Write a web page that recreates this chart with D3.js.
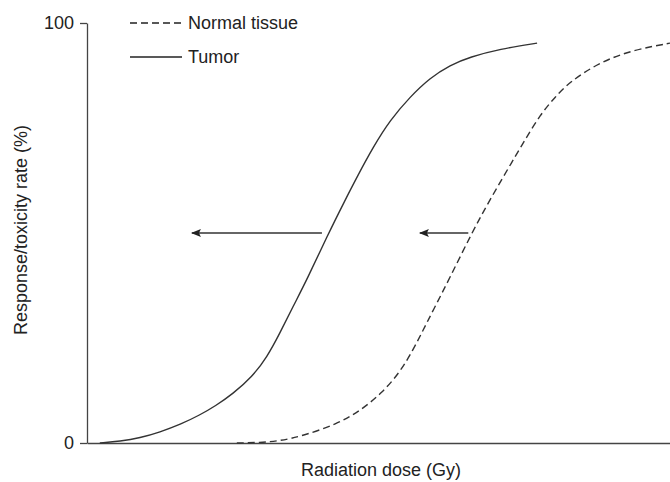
<!DOCTYPE html>
<html>
<head>
<meta charset="utf-8">
<script src="https://cdn.jsdelivr.net/npm/d3@7"></script>
<style>
  html, body { margin: 0; padding: 0; background: #fff; }
  svg { display: block; }
  text { font-family: "Liberation Sans", Arial, Helvetica, sans-serif; fill: #222; }
</style>
</head>
<body>
<svg id="chart" width="670" height="482"></svg>
<script>
// Dose axis is unitless (0-100 arbitrary), rate in %
const tumorDose = [2.2, 5.7, 9.1, 12.5, 16.0, 19.4, 22.0, 25.0, 28.3, 30.9, 33.1, 35.3, 37.7, 41.2, 44.3, 46.3, 49.1, 52.0, 55.4, 58.8, 62.3, 65.7, 70.8, 77.2];
const tumorRate = [0, 0.4, 1.2, 2.6, 4.4, 6.7, 8.8, 11.7, 15.7, 20.5, 26.2, 32.4, 38.8, 49.3, 57.9, 63.3, 70.5, 76.9, 82.4, 86.9, 90.0, 91.9, 93.8, 95.2];
const normalDose = [25.7, 29.7, 33.1, 37.0, 42.9, 46.8, 50.6, 53.7, 55.9, 57.6, 59.3, 62.3, 66.0, 69.1, 73.1, 75.1, 77.7, 80.3, 82.8, 88.0, 93.7, 100];
const normalRate = [0, 0.1, 0.5, 1.7, 4.5, 7.6, 11.9, 16.9, 22.1, 26.7, 31.4, 39.5, 50.0, 57.9, 67.4, 72.1, 78.1, 82.4, 86.0, 90.7, 93.6, 95.2];
const yTicks = [0, 100];
const legendLabels = ["Normal tissue", "Tumor"];
// arrows: from dose -> to dose at a given rate
const arrowFrom = [40.3, 65.4];
const arrowTo = [18.0, 57.1];
const arrowRate = [50, 50];

const svg = d3.select("#chart");
const x = d3.scaleLinear().domain([0, 100]).range([87, 670]);
const y = d3.scaleLinear().domain([0, 100]).range([443, 23]);

const axisColor = "#444";
const fs = "18px";

// Y axis
const yAxis = svg.append("g").attr("transform", `translate(${x(0)},0)`)
  .call(d3.axisLeft(y).tickValues(yTicks).tickSize(7).tickPadding(6).tickSizeOuter(0));
yAxis.select(".domain").attr("stroke", axisColor).attr("stroke-width", 1.3);
yAxis.selectAll(".tick line").attr("stroke", axisColor).attr("stroke-width", 1.3);
yAxis.selectAll(".tick text").style("font-size", fs).style("font-family", "Liberation Sans, Arial, sans-serif").attr("fill", "#222");

// X axis (no ticks)
const xAxis = svg.append("g").attr("transform", `translate(0,${y(0)})`)
  .call(d3.axisBottom(x).tickValues([]).tickSizeOuter(0));
xAxis.select(".domain").attr("stroke", axisColor).attr("stroke-width", 1.3);

// Curves
const line = d3.line().x(d => x(d[0])).y(d => y(d[1])).curve(d3.curveBasis);
const tumor = tumorDose.map((d, i) => [d, tumorRate[i]]);
const normal = normalDose.map((d, i) => [d, normalRate[i]]);

svg.append("path").datum(normal).attr("d", line)
  .attr("fill", "none").attr("stroke", "#333").attr("stroke-width", 1.4)
  .attr("stroke-dasharray", "7,4");
svg.append("path").datum(tumor).attr("d", line)
  .attr("fill", "none").attr("stroke", "#333").attr("stroke-width", 1.4);

// Arrows
const defs = svg.append("defs");
defs.append("marker").attr("id", "ah")
  .attr("viewBox", "0 0 10 8").attr("refX", 9).attr("refY", 4)
  .attr("markerWidth", 10).attr("markerHeight", 8).attr("markerUnits", "userSpaceOnUse")
  .attr("orient", "auto")
  .append("path").attr("d", "M0,0 L10,4 L0,8 L2,4 Z").attr("fill", "#222");

arrowFrom.forEach((f, i) => {
  svg.append("line")
    .attr("x1", x(f)).attr("y1", y(arrowRate[i]))
    .attr("x2", x(arrowTo[i])).attr("y2", y(arrowRate[i]))
    .attr("stroke", "#333").attr("stroke-width", 1.4)
    .attr("marker-end", "url(#ah)");
});

// Legend
const leg = svg.append("g");
const legY = [23, 57];
legendLabels.forEach((lab, i) => {
  leg.append("line").attr("x1", 130).attr("x2", 182)
    .attr("y1", legY[i]).attr("y2", legY[i])
    .attr("stroke", "#222").attr("stroke-width", 1.7)
    .attr("stroke-dasharray", i === 0 ? "7,4" : null);
  leg.append("text").attr("x", 188).attr("y", legY[i])
    .attr("dominant-baseline", "central")
    .style("font-size", fs).text(lab);
});

// Axis titles
svg.append("text").attr("x", 381).attr("y", 476)
  .attr("text-anchor", "middle").style("font-size", fs)
  .text("Radiation dose (Gy)");
svg.append("text")
  .attr("transform", "translate(21,230) rotate(-90)")
  .attr("text-anchor", "middle").attr("dominant-baseline", "central")
  .style("font-size", fs)
  .text("Response/toxicity rate (%)");
</script>
</body>
</html>
